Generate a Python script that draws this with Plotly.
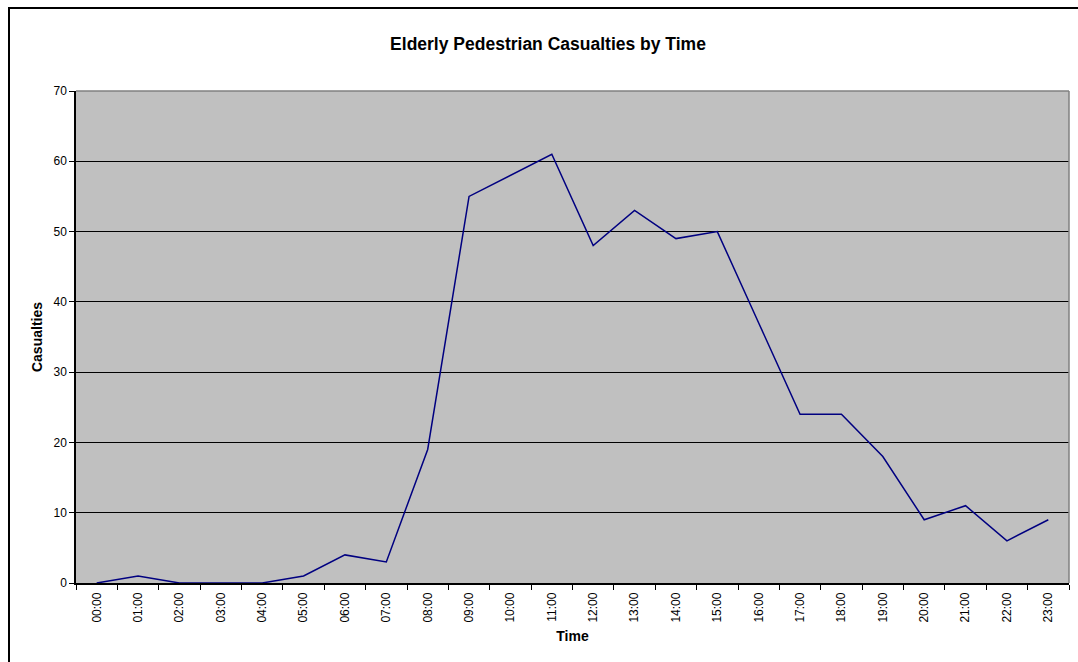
import plotly.graph_objects as go

# Hourly casualty counts
hours = [f"{h:02d}:00" for h in range(24)]
casualties = [0, 1, 0, 0, 0, 1, 4, 3, 19, 55, 58, 61, 48, 53, 49, 50, 37, 24, 24, 18, 9, 11, 6, 9]
y_ticks = [0, 10, 20, 30, 40, 50, 60, 70]

W, H = 1078, 662
L, R, T, B = 76, 9, 91, 79
pw, ph = W - L - R, H - T - B

def px_x(p):
    return (p - L) / pw

def px_y(p):
    return (H - B - p) / ph

FONT = "Liberation Sans, Arial, sans-serif"

fig = go.Figure()
fig.add_trace(go.Scatter(
    x=hours, y=casualties, mode="lines",
    line=dict(color="#000080", width=1.5),
    hoverinfo="x+y", showlegend=False,
))

fig.update_layout(
    width=W, height=H,
    margin=dict(l=L, r=R, t=T, b=B),
    paper_bgcolor="white",
    plot_bgcolor="#C0C0C0",
    font=dict(family=FONT, size=12, color="black"),
    title=dict(
        text="<b>Elderly Pedestrian Casualties by Time</b>",
        x=548 / W, xanchor="center",
        y=1 - 44 / H, yanchor="middle",
        font=dict(family=FONT, size=17.5, color="black"),
    ),
    xaxis=dict(
        type="category", tickson="boundaries", range=[-0.5, 23.5],
        ticks="outside", ticklen=5, tickcolor="black", tickwidth=1,
        tickangle=-90, tickfont=dict(size=12), ticklabelstandoff=3,
        showline=True, linecolor="black", linewidth=1.5,
        showgrid=False, zeroline=False,
        title=dict(text="<b>Time</b>", font=dict(size=14), standoff=10),
    ),
    yaxis=dict(
        range=[0, 70], tickvals=y_ticks,
        ticks="outside", ticklen=5, tickcolor="black", tickwidth=1,
        tickfont=dict(size=12),
        showline=True, linecolor="black", linewidth=1.5,
        showgrid=True, gridcolor="black", gridwidth=1,
        zeroline=False,
        title=dict(text="<b>Casualties</b>", font=dict(size=14), standoff=8),
    ),
    shapes=[
        # grey frame on the top and right of the plot area
        dict(type="line", xref="paper", yref="paper", x0=0, x1=1, y0=1, y1=1,
             line=dict(color="#808080", width=1.5), layer="above"),
        dict(type="line", xref="paper", yref="paper", x0=1, x1=1, y0=0, y1=1,
             line=dict(color="#808080", width=1.5), layer="above"),
        # chart border
        dict(type="rect", xref="paper", yref="paper",
             x0=px_x(9), x1=px_x(1085), y0=px_y(670), y1=px_y(8),
             line=dict(color="black", width=2), fillcolor="rgba(0,0,0,0)",
             layer="above"),
    ],
)

fig.write_html("out.html")
